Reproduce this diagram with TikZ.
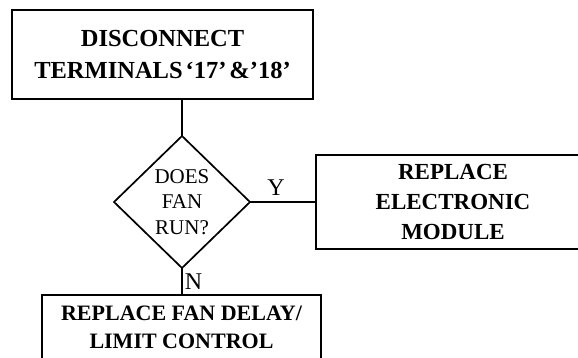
\documentclass[tikz,border=0pt]{standalone}
\usepackage{fontspec}
\setmainfont{Liberation Serif}
\usetikzlibrary{shapes.geometric}
\begin{document}
\begin{tikzpicture}[x=1pt,y=-1pt,
    actionbox/.style={draw, line width=1.7pt, inner sep=0pt, outer sep=0pt, align=center,
        font=\bfseries\fontsize{24.5}{32}\selectfont},
    decision/.style={draw, diamond, line width=1.7pt, inner sep=0pt, outer sep=0pt, align=center,
        minimum width=136pt, minimum height=132pt, font=\fontsize{21}{25.5}\selectfont},
    answer/.style={font=\fontsize{24}{25}\selectfont, inner sep=2pt}]
    \useasboundingbox (0,0) rectangle (578,358);
    \clip (0,0) rectangle (578,358);
    % boxes
    \node[actionbox, minimum width=301pt, minimum height=89pt] (disconnect) at (162.5,54.5)
        {DISCONNECT\\TERMINALS\hspace{3pt}`17'\hspace{3pt}\&'18'};
    \node[decision] (fanruns) at (182,202) {DOES\\FAN\\RUN?};
    \node[actionbox, minimum width=274pt, minimum height=94pt, font=\bfseries\fontsize{23}{30}\selectfont] (module) at (453,202)
        {REPLACE\\ELECTRONIC\\MODULE};
    \node[actionbox, anchor=north, minimum width=279pt, minimum height=100pt, inner ysep=11pt,
        text depth=50pt, font=\bfseries\fontsize{22}{28}\selectfont] (fandelay) at (181.5,295)
        {REPLACE FAN DELAY/\\LIMIT CONTROL};
    % connectors
    \draw[line width=1.7pt] (fanruns.north) -- (fanruns.north |- disconnect.south);
    \draw[line width=1.7pt] (fanruns.east) -- node[answer, above=4pt, xshift=-7pt] {Y} (module.west);
    \draw[line width=1.7pt] (fanruns.south) -- node[answer, right] {N} (fanruns.south |- fandelay.north);
\end{tikzpicture}
\end{document}
